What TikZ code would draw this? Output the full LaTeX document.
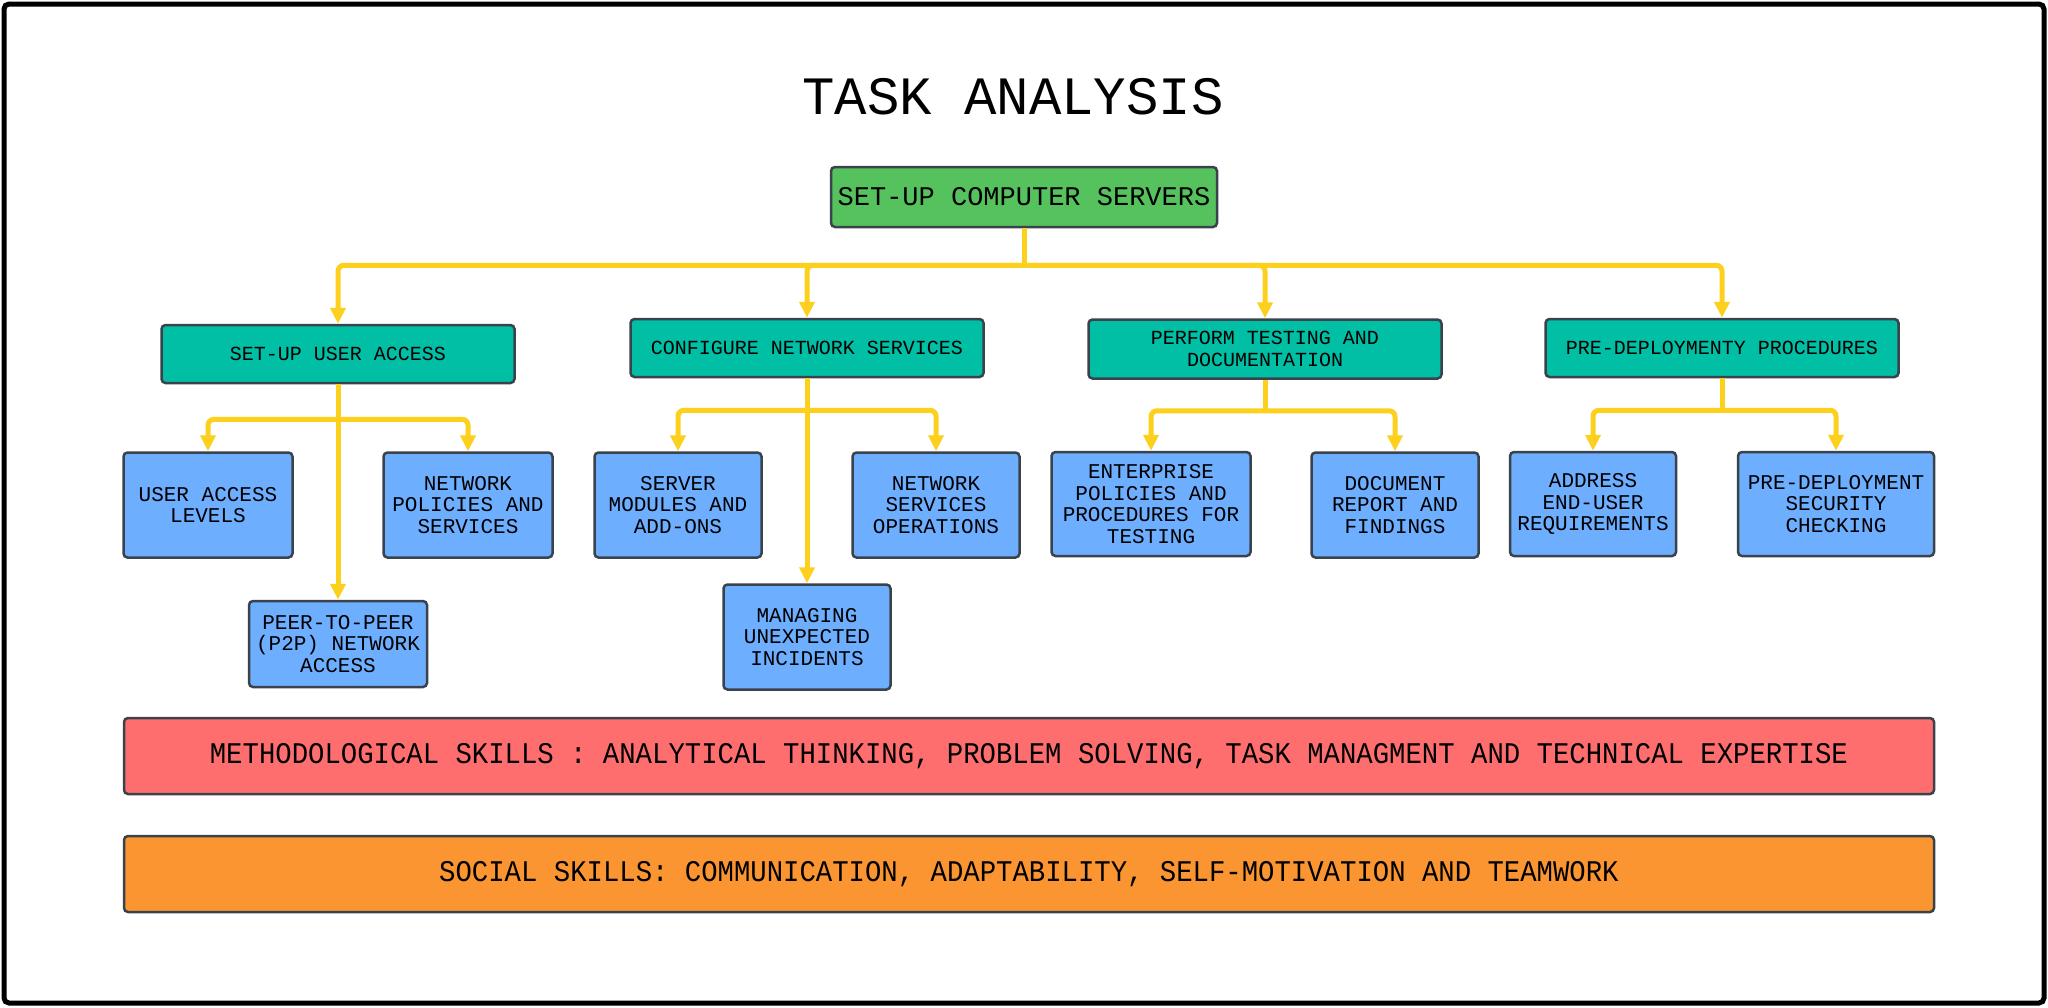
\documentclass[tikz,border=0pt]{standalone}
\usepackage{fontspec}
\setmainfont{Liberation Mono}
\newfontfamily\barfont[FakeStretch=0.91]{Liberation Mono}
\usetikzlibrary{positioning,calc,arrows.meta}

\definecolor{rootgreen}{HTML}{55C25E}
\definecolor{taskteal}{HTML}{00BFA5}
\definecolor{subblue}{HTML}{6EAEFF}
\definecolor{methred}{HTML}{FF6E6E}
\definecolor{socorange}{HTML}{FA9532}
\definecolor{linkyellow}{HTML}{FCD01C}
\definecolor{boxedge}{HTML}{3A424B}

\begin{document}
\begin{tikzpicture}[x=1pt, y=-1pt,
    box/.style={rectangle, draw=boxedge, line width=2.5pt, rounded corners=4pt, inner sep=0pt, align=center},
    rootbox/.style={box, fill=rootgreen, minimum width=386pt, minimum height=60pt, font=\fontsize{27}{28}\selectfont},
    taskbox/.style={box, fill=taskteal, minimum width=353pt, minimum height=58pt, font=\fontsize{20}{21.7}\selectfont},
    subbox/.style={box, fill=subblue, minimum width=167pt, minimum height=105pt, font=\fontsize{21}{21.7}\selectfont},
    skillbar/.style={box, minimum width=1810pt, minimum height=76pt, font=\barfont\fontsize{30}{31}\selectfont},
    link/.style={draw=linkyellow, line width=5pt},
    linkarrow/.style={link, rounded corners=6pt, -{Triangle[length=16pt, width=15pt]}}]

            \useasboundingbox (0,0) rectangle (2048,1007);
            \draw [line width=5pt, rounded corners=5pt] (4,4) rectangle (2044,1003);

            \node (title) [font=\fontsize{54}{56}\selectfont] at (1013,97) {TASK ANALYSIS};

            % main task
            \node (root) [rootbox] at (1024,197) {SET-UP COMPUTER SERVERS};

            % sub tasks
            \node (ua) [taskbox] at (338,354) {SET-UP USER ACCESS};
            \node (cns) [taskbox] at (807,348) {CONFIGURE NETWORK SERVICES};
            \node (ptd) [taskbox, minimum height=59pt] at (1265,349) {PERFORM TESTING AND\\DOCUMENTATION};
            \node (pdp) [taskbox] at (1722,348) {PRE-DEPLOYMENTY PROCEDURES};

            % steps
            \node (ual) [subbox, minimum width=169pt] at (208,505) {USER ACCESS\\LEVELS};
            \node (nps) [subbox, minimum width=169pt] at (468,505) {NETWORK\\POLICIES AND\\SERVICES};
            \node (p2p) [subbox, minimum width=178pt, minimum height=86pt] at (338,644) {PEER-TO-PEER\\(P2P) NETWORK\\ACCESS};

            \node (sma) [subbox] at (678,505) {SERVER\\MODULES AND\\ADD-ONS};
            \node (nso) [subbox] at (936,505) {NETWORK\\SERVICES\\OPERATIONS};
            \node (mui) [subbox] at (807,637) {MANAGING\\UNEXPECTED\\INCIDENTS};

            \node (epp) [subbox, minimum width=199pt, minimum height=104pt] at (1151,504) {ENTERPRISE\\POLICIES AND\\PROCEDURES FOR\\TESTING};
            \node (drf) [subbox] at (1395,505) {DOCUMENT\\REPORT AND\\FINDINGS};

            \node (aeu) [subbox, minimum width=166pt, minimum height=104pt] at (1593,504) {ADDRESS\\END-USER\\REQUIREMENTS};
            \node (psc) [subbox, minimum width=196pt, minimum height=104pt] at (1836,504) {PRE-DEPLOYMENT\\SECURITY\\CHECKING};

            % skills
            \node (meth) [skillbar, fill=methred] at (1029,756) {METHODOLOGICAL SKILLS : ANALYTICAL THINKING, PROBLEM SOLVING, TASK MANAGMENT AND TECHNICAL EXPERTISE};
            \node (soc) [skillbar, fill=socorange] at (1029,874) {SOCIAL SKILLS: COMMUNICATION, ADAPTABILITY, SELF-MOTIVATION AND TEAMWORK};

            % connectors
            \draw [link] (root.south) -- ++(0,37) coordinate (rootbus);
            \foreach \t in {ua, cns, ptd, pdp}
                \draw [linkarrow] (rootbus) -| (\t.north);

            \draw [link] (ua.south) -- ++(0,35) coordinate (uabus);
            \draw [linkarrow] (uabus) -| (ual.north);
            \draw [linkarrow] (uabus) -| (nps.north);
            \draw [linkarrow] (ua.south) -- (p2p.north);

            \draw [link] (cns.south) -- ++(0,32) coordinate (cnsbus);
            \draw [linkarrow] (cnsbus) -| (sma.north);
            \draw [linkarrow] (cnsbus) -| (nso.north);
            \draw [linkarrow] (cns.south) -- (mui.north);

            \draw [link] (ptd.south) -- ++(0,31) coordinate (ptdbus);
            \draw [linkarrow] (ptdbus) -| (epp.north);
            \draw [linkarrow] (ptdbus) -| (drf.north);

            \draw [link] (pdp.south) -- ++(0,32) coordinate (pdpbus);
            \draw [linkarrow] (pdpbus) -| (aeu.north);
            \draw [linkarrow] (pdpbus) -| (psc.north);
\end{tikzpicture}
\end{document}
